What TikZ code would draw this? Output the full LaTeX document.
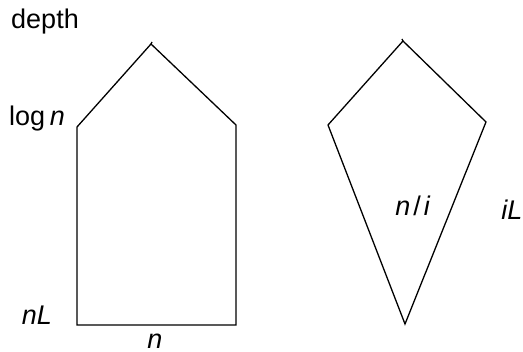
\documentclass[tikz,border=0pt]{standalone}
\usepackage{fontspec}
\setmainfont{Liberation Sans}
\usetikzlibrary{positioning}

\tikzset{
    lbl/.style={font=\fontsize{27}{31}\selectfont, inner sep=0pt},
    outline/.style={line width=1.3pt, line join=miter}
}

\begin{document}
\begin{tikzpicture}[x=1pt, y=1pt]
    \useasboundingbox (0,0) rectangle (523,352);

    % House shape
    \coordinate (hbl) at (77,27);
    \coordinate (hbr) at (236,27);
    \coordinate (hrs) at (236,227);
    \coordinate (htop) at (151,308);
    \coordinate (hls) at (77,225);
    \draw[outline] (hbl) -- (hbr) -- (hrs) -- (htop) -- (hls) -- cycle;
    \draw[outline] (htop) -- ++(1,2);

    % Kite shape
    \coordinate (ktop) at (403,311);
    \coordinate (kleft) at (328,227);
    \coordinate (kright) at (486,230);
    \coordinate (kbot) at (405,28);
    \draw[outline] (ktop) -- (kright) -- (kbot) -- (kleft) -- cycle;
    \draw[outline] (ktop) -- ++(-1,2);

    % Labels
    \node[lbl] (depth) at (45,330) {depth};
    \node[lbl] (logn) at (37,233) {log\,\textit{n}};
    \node[lbl] (nl) at (37,37) {\textit{nL}};
    \node[lbl] (width) at (155,11) {\textit{n}};
    \node[lbl] (ni) at (413,146) {\textit{n}\kern3pt/\kern3pt\textit{i}};
    \node[lbl] (il) at (512,142) {\textit{iL}};
\end{tikzpicture}
\end{document}
